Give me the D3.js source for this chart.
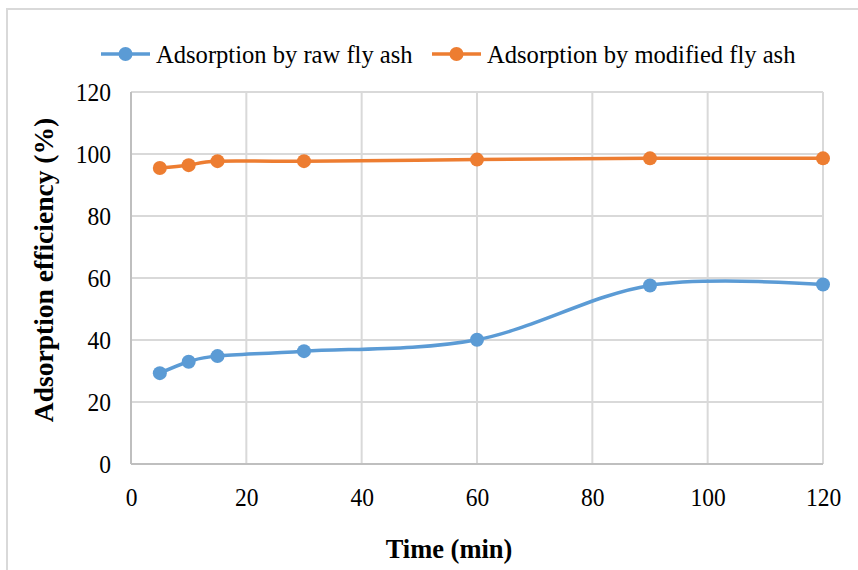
<!DOCTYPE html>
<html><head><meta charset="utf-8">
<script src="https://cdn.jsdelivr.net/npm/d3@7"></script>
<style>html,body{margin:0;padding:0;background:#fff;}svg{display:block;}</style>
</head><body>
<svg id="c" width="858" height="570"></svg>
<script>
const times = [5, 10, 15, 30, 60, 90, 120];
const rawFlyAsh = [29.3, 33.0, 34.8, 36.4, 40.1, 57.6, 57.9];
const modifiedFlyAsh = [95.5, 96.4, 97.7, 97.7, 98.2, 98.6, 98.6];
const seriesNames = ["Adsorption by raw fly ash", "Adsorption by modified fly ash"];
const xTicks = [0, 20, 40, 60, 80, 100, 120];
const yTicks = [0, 20, 40, 60, 80, 100, 120];
const xTitle = "Time (min)";
const yTitle = "Adsorption  efficiency (%)";

const colors = ["#5b9bd5", "#ed7d31"];
const font = "'Liberation Serif','Times New Roman',serif";

const svg = d3.select("#c");
const L = 131, R = 823, T = 92, B = 464;
const x = d3.scaleLinear().domain([0, 120]).range([L, R]);
const y = d3.scaleLinear().domain([0, 120]).range([B, T]);

function condense(sel, f) {
  sel.each(function() {
    const w = this.getComputedTextLength();
    d3.select(this).attr("textLength", w * f).attr("lengthAdjust", "spacingAndGlyphs");
  });
}

// outer chart border
svg.append("path").attr("d", "M7,570 V9 H858").attr("fill", "none")
  .attr("stroke", "#d9d9d9").attr("stroke-width", 2);

// gridlines
const g = svg.append("g");
g.selectAll(".vg").data(xTicks).join("line")
  .attr("x1", d => x(d)).attr("x2", d => x(d)).attr("y1", T).attr("y2", B)
  .attr("stroke", "#d9d9d9").attr("stroke-width", 2);
g.selectAll(".hg").data(yTicks).join("line")
  .attr("x1", L).attr("x2", R).attr("y1", d => y(d)).attr("y2", d => y(d))
  .attr("stroke", "#d9d9d9").attr("stroke-width", 2);
g.append("line").attr("x1", L).attr("x2", R).attr("y1", B).attr("y2", B)
  .attr("stroke", "#bfbfbf").attr("stroke-width", 2);
g.append("line").attr("x1", L).attr("x2", L).attr("y1", T).attr("y2", B)
  .attr("stroke", "#bfbfbf").attr("stroke-width", 2);

// tick labels via axes
const xAxis = svg.append("g").attr("transform", `translate(0,${B})`)
  .call(d3.axisBottom(x).tickValues(xTicks).tickSize(0).tickPadding(24).tickFormat(d3.format("d")));
xAxis.select(".domain").remove();
xAxis.selectAll("text").attr("font-family", font).attr("font-size", 25).attr("fill", "#000").call(condense, 0.94);

const yAxis = svg.append("g").attr("transform", `translate(${L},0)`)
  .call(d3.axisLeft(y).tickValues(yTicks).tickSize(0).tickPadding(20).tickFormat(d3.format("d")));
yAxis.select(".domain").remove();
yAxis.selectAll("text").attr("font-family", font).attr("font-size", 25).attr("fill", "#000").call(condense, 0.94);

// series
const data = [rawFlyAsh, modifiedFlyAsh];
const line = d3.line().x((d, i) => x(times[i])).y(d => y(d)).curve(d3.curveCardinal.tension(0));
data.forEach((vals, k) => {
  svg.append("path").attr("d", line(vals)).attr("fill", "none")
    .attr("stroke", colors[k]).attr("stroke-width", 3.5).attr("stroke-linecap", "round");
  svg.selectAll(".m" + k).data(vals).join("circle")
    .attr("cx", (d, i) => x(times[i])).attr("cy", d => y(d)).attr("r", 7)
    .attr("fill", colors[k]);
});

// axis titles
svg.append("text").attr("x", 449).attr("y", 558).attr("text-anchor", "middle")
  .attr("font-family", font).attr("font-size", 27).attr("font-weight", "bold").text(xTitle)
  .call(condense, 0.98);
svg.append("text").attr("transform", "translate(53,270) rotate(-90)").attr("text-anchor", "middle")
  .attr("font-family", font).attr("font-size", 27).attr("font-weight", "bold").text(yTitle)
  .call(condense, 1.02);

// legend
const legX = [101, 432];
seriesNames.forEach((name, k) => {
  const lg = svg.append("g").attr("transform", `translate(${legX[k]},54)`);
  lg.append("line").attr("x1", 0).attr("x2", 49).attr("y1", 0).attr("y2", 0)
    .attr("stroke", colors[k]).attr("stroke-width", 3.5);
  lg.append("circle").attr("cx", 24.5).attr("cy", 0).attr("r", 7).attr("fill", colors[k]);
  lg.append("text").attr("x", 55).attr("y", 9).attr("font-family", font).attr("font-size", 26)
    .attr("fill", "#000").text(name).call(condense, 0.945);
});
</script>
</body></html>
